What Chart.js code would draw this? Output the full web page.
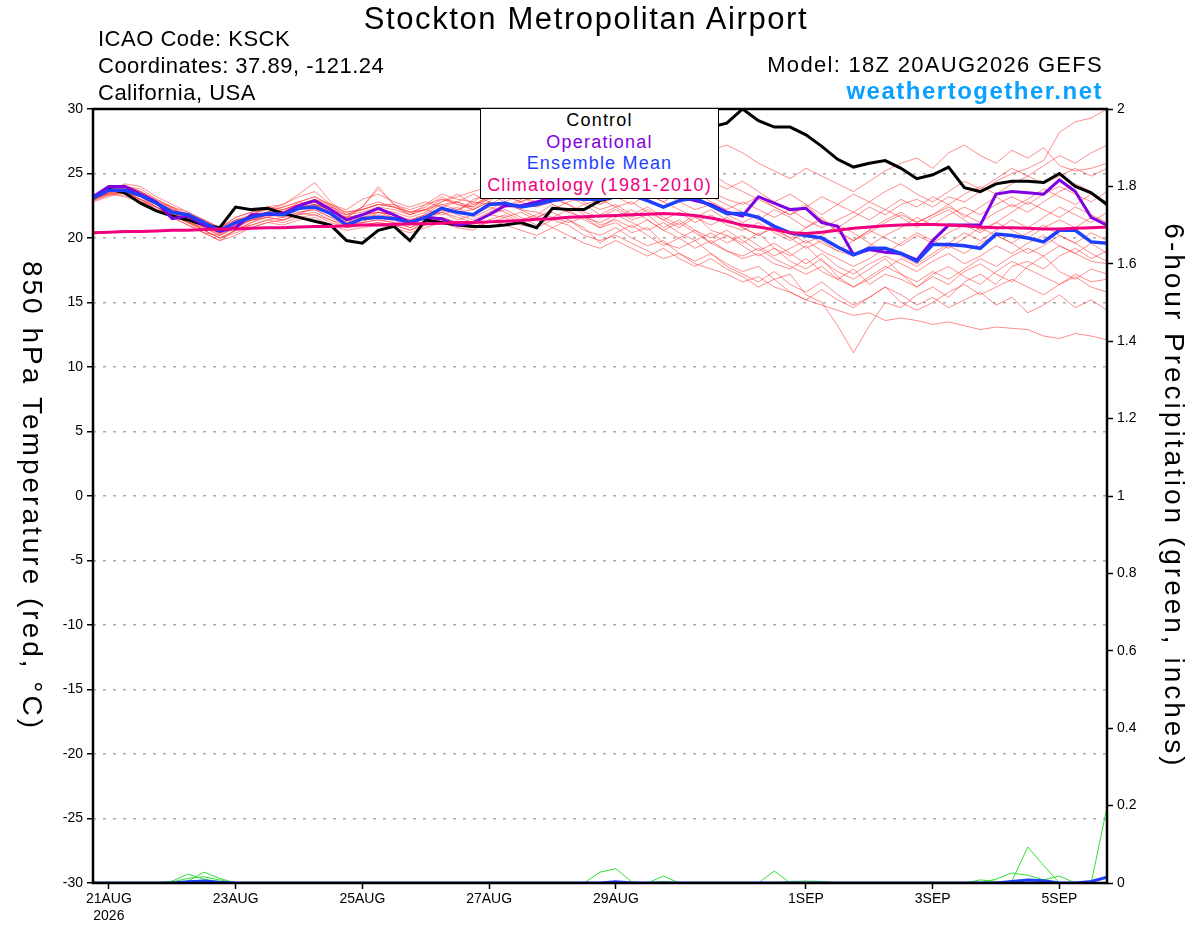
<!DOCTYPE html>
<html>
<head>
<meta charset="utf-8">
<script src="https://cdn.jsdelivr.net/npm/chart.js@4.4.0/dist/chart.umd.min.js"></script>
<style>
body{margin:0;background:#fff;font-family:"Liberation Sans",Arial,sans-serif;}
#wrap{position:relative;width:1200px;height:927px;overflow:hidden;}
#c{position:absolute;left:0;top:0;}
.t{position:absolute;white-space:nowrap;color:#000;line-height:1;}
#legend{position:absolute;left:480px;top:108px;width:237px;height:88px;background:#fff;border:1.5px solid #000;text-align:center;font-size:18px;letter-spacing:1.2px;line-height:21.5px;padding-top:1px;}
</style>
</head>
<body>
<div id="wrap">
<canvas id="c" width="1200" height="927"></canvas>
<div class="t" style="left:0;width:1172px;top:3px;text-align:center;font-size:31px;letter-spacing:1.6px">Stockton Metropolitan Airport</div>
<div class="t" style="left:98px;top:28px;font-size:22px;letter-spacing:0.5px">ICAO Code: KSCK</div>
<div class="t" style="left:98px;top:55px;font-size:22px;letter-spacing:0.5px">Coordinates: 37.89, -121.24</div>
<div class="t" style="left:98px;top:82px;font-size:22px;letter-spacing:0.5px">California, USA</div>
<div class="t" style="right:97px;top:54px;font-size:22px;letter-spacing:1.3px">Model: 18Z 20AUG2026 GEFS</div>
<div class="t" style="right:97px;top:79px;font-size:24px;letter-spacing:1.5px;font-weight:bold;color:#0aa0ff">weathertogether.net</div>
<div id="legend">
<div style="color:#000">Control</div>
<div style="color:#7f00e0">Operational</div>
<div style="color:#1f3fff">Ensemble Mean</div>
<div style="color:#f0007f">Climatology (1981-2010)</div>
</div>
</div>
<script>
// 6-hourly steps from 18Z 20AUG2026 to 18Z 5SEP2026 (65 values)
var tickHours = [6, 54, 102, 150, 198, 270, 318, 366];
var tickLabels = [['21AUG', '2026'], '23AUG', '25AUG', '27AUG', '29AUG', '1SEP', '3SEP', '5SEP'];

var control = [23.1,23.8,23.5,22.7,22.1,21.7,21.4,21.0,20.8,
  22.4,22.2,22.3,21.9,21.6,21.3,21.0,19.8,19.6,20.6,
  20.9,19.8,21.4,21.2,21.0,20.9,20.9,21.0,21.2,20.8,22.3,22.2,22.2,22.9,
  23.2,24.0,25.0,26.0,27.0,28.0,28.6,28.9,
  30.0,29.1,28.6,28.6,28.0,27.1,26.1,25.5,25.8,26.0,25.4,24.6,
  24.9,25.5,23.9,23.6,24.2,24.4,24.4,24.3,25.0,24.0,23.5,22.6];
var operational = [23.2,24.0,24.0,23.4,22.8,21.5,21.7,21.0,20.5,
  20.8,21.8,21.8,21.9,22.5,22.9,22.2,21.4,21.8,22.3,
  21.8,21.2,21.6,21.5,21.0,21.2,21.8,22.5,22.5,22.8,23.1,23.3,23.6,23.9,
  24.0,24.0,23.8,23.5,23.2,22.9,22.6,22.0,
  21.7,23.2,22.7,22.2,22.3,21.2,20.9,18.7,19.1,18.9,18.8,18.3,
  19.8,21.0,21.0,21.0,23.4,23.6,23.5,23.4,24.5,23.6,21.6,21.0];
var ensMean = [23.1,23.7,23.7,23.3,22.7,22.0,21.8,21.2,20.6,
  21.2,21.6,21.9,21.8,22.3,22.4,21.9,21.0,21.5,21.6,
  21.5,21.2,21.6,22.3,22.0,21.8,22.6,22.7,22.4,22.6,22.9,23.1,23.0,23.0,
  23.2,23.3,22.9,22.4,22.9,23.1,22.5,21.9,
  21.9,21.6,20.9,20.4,20.2,20.0,19.3,18.7,19.2,19.2,18.8,18.2,
  19.5,19.5,19.4,19.2,20.3,20.2,20.0,19.7,20.6,20.6,19.7,19.6];
var climo = [20.4,20.45,20.5,20.5,20.55,20.6,20.6,20.65,20.7,
  20.7,20.75,20.8,20.8,20.85,20.9,20.9,20.95,21.0,21.0,
  21.05,21.1,21.1,21.15,21.2,21.2,21.25,21.3,21.35,21.45,21.5,21.6,21.65,21.7,
  21.75,21.8,21.85,21.9,21.85,21.75,21.55,21.3,
  21.0,20.85,20.65,20.4,20.35,20.45,20.6,20.75,20.85,20.95,21.0,21.05,
  21.05,21.0,20.95,20.85,20.8,20.8,20.75,20.7,20.7,20.75,20.8,20.85];

var members = [
 [23.0,23.9,24.1,23.6,22.9,22.3,21.6,21.0,20.4, 21.0,21.8,22.4,22.0,22.8,23.2,22.5,21.4,21.2,22.0,
  21.8,21.0,21.9,22.6,22.8,22.2,23.1,23.6,23.0,23.8,24.4,24.0,24.8,25.2, 25.6,25.0,25.8,26.2,25.4,24.6,25.0,24.2,
  23.6,23.0,22.4,21.8,22.6,21.4,20.8,21.6,22.4,21.8,22.6,23.0, 22.4,23.2,22.8,23.6,24.4,25.0,25.4,26.0,28.2,29.0,29.3,30.0],
 [23.1,23.4,23.2,22.8,22.4,21.6,21.3,20.6,20.0, 20.6,21.2,21.6,21.4,21.9,21.8,21.2,20.8,21.0,21.2,
  21.0,20.6,21.2,21.6,21.2,21.0,21.8,21.6,21.0,20.8,21.4,21.0,20.2,19.8, 20.2,19.6,19.0,18.4,18.8,18.0,17.6,17.2,
  16.6,17.0,16.2,15.8,15.2,14.8,14.4,14.0,14.2,13.6,13.8,13.6, 13.3,13.5,13.2,12.9,13.1,13.0,12.9,12.4,12.2,12.6,12.4,12.1],
 [23.2,23.8,23.6,23.0,22.2,21.9,21.2,20.8,20.2, 21.4,21.6,22.0,22.2,22.6,22.8,22.0,21.2,21.6,21.8,
  21.6,21.4,21.8,22.0,22.4,21.6,22.2,22.8,22.2,22.0,21.6,21.2,21.6,20.8, 21.2,20.4,20.8,19.6,19.2,19.8,18.8,18.0,
  17.4,17.8,16.8,17.2,15.6,15.0,13.2,11.1,13.2,15.0,14.6,15.6, 16.2,15.4,16.6,17.2,16.4,17.8,18.2,17.6,18.6,19.2,18.4,19.0],
 [22.9,23.6,24.2,24.0,23.2,22.6,22.0,21.4,20.8, 21.6,22.0,22.2,22.6,23.4,24.3,22.8,21.8,22.2,22.6,
  22.4,22.0,22.4,23.2,22.6,22.4,23.4,23.0,23.6,24.0,23.4,24.2,24.6,24.0, 24.8,25.2,24.6,25.4,26.2,25.6,26.8,27.2,
  26.6,25.8,25.2,24.6,25.4,24.8,24.2,23.6,24.4,25.2,25.8,26.2, 25.4,26.6,27.2,26.4,25.8,26.8,26.2,27.0,25.6,25.2,25.4,25.8],
 [23.0,23.5,23.9,23.4,22.6,22.2,21.8,21.0,20.6, 21.0,21.4,21.8,21.6,22.0,22.2,21.6,21.6,22.4,24.0,
  22.6,21.8,22.2,21.8,22.2,22.8,22.6,23.2,22.8,22.4,22.8,23.6,22.8,22.2, 22.6,21.8,22.4,21.6,21.0,21.8,20.6,20.2,
  19.6,20.4,19.2,18.6,19.4,18.2,17.4,16.8,17.6,18.4,17.2,16.2, 17.0,16.4,17.4,18.0,17.2,16.6,17.8,18.6,17.4,16.8,17.6,17.2],
 [23.1,23.7,24.0,23.8,23.0,22.4,21.5,20.9,20.3, 20.8,21.4,21.6,22.0,22.4,22.6,22.2,21.4,21.8,22.2,
  22.0,21.6,22.0,22.8,23.4,22.6,23.0,23.4,23.8,23.2,23.8,24.6,24.0,23.6, 24.2,23.6,23.0,23.6,22.8,22.2,22.6,21.8,
  21.2,21.8,20.6,20.0,20.8,21.6,20.4,19.8,20.6,21.4,22.0,21.2, 21.8,22.6,21.6,22.4,23.2,22.4,23.0,23.8,23.2,22.6,23.4,22.8],
 [22.9,23.3,23.6,23.2,22.8,22.0,21.4,20.6,20.0, 20.4,20.8,21.2,21.0,21.4,21.6,21.0,20.6,20.8,21.0,
  20.8,20.4,20.8,21.2,20.8,20.6,21.4,21.8,21.2,21.6,22.0,21.4,20.6,20.2, 20.8,20.0,19.4,19.8,18.8,18.2,18.8,17.8,
  17.2,16.6,17.4,16.4,15.8,16.6,15.6,14.8,15.4,16.2,15.6,14.8, 15.4,14.6,15.2,15.8,14.8,15.4,14.2,14.8,15.6,14.6,15.2,14.4],
 [23.2,24.0,23.8,23.4,22.6,21.8,21.2,20.4,19.8, 20.6,21.2,21.8,22.0,22.6,23.0,22.4,21.8,22.0,22.4,
  22.2,21.8,22.6,23.0,22.6,22.2,22.8,23.8,23.2,22.8,23.2,22.6,22.0,21.6, 22.2,21.4,21.8,20.8,21.4,20.6,20.0,20.6,
  19.8,19.0,19.6,18.8,18.0,18.8,17.8,17.2,18.0,18.6,18.0,17.4, 18.2,18.8,18.0,18.6,19.4,18.8,19.6,20.2,19.4,18.8,19.6,18.8],
 [23.0,23.6,23.4,23.0,22.4,21.8,21.6,21.0,20.6, 21.2,21.8,22.2,22.4,22.8,22.6,22.2,21.4,21.6,22.0,
  21.8,21.4,21.6,22.4,22.0,23.0,23.4,22.8,23.4,23.8,24.2,23.8,23.2,22.6, 23.4,24.0,23.4,22.8,23.6,24.4,23.6,23.0,
  22.6,23.2,22.4,21.8,22.4,23.2,22.6,22.0,21.4,22.2,21.6,20.8, 21.6,22.2,21.4,20.6,21.2,22.0,22.8,22.2,21.6,22.4,21.8,21.2],
 [23.1,23.5,23.8,23.4,22.8,22.2,21.8,21.2,20.8, 21.4,21.6,22.0,21.8,22.2,22.4,21.8,21.2,21.4,21.6,
  21.4,20.8,21.2,21.6,21.2,20.8,21.2,21.6,22.0,21.4,20.8,21.4,20.8,19.6, 20.4,21.0,20.2,19.4,20.0,19.2,19.8,19.0,
  18.4,18.8,18.0,17.6,18.4,17.4,16.8,17.6,16.4,17.2,16.8,16.2, 17.2,17.8,17.0,16.4,17.4,18.2,17.6,17.0,16.4,17.2,16.6,16.8],
 [23.0,23.8,24.1,23.6,22.8,22.2,21.6,21.2,20.6, 21.2,21.8,22.4,22.6,23.2,23.6,22.6,21.6,22.4,23.8,
  22.6,22.0,22.2,23.0,22.8,22.4,23.2,23.6,24.2,23.6,24.0,24.6,25.0,24.4, 25.0,24.4,24.8,25.4,24.6,25.2,24.4,23.8,
  24.4,23.6,22.8,23.4,22.6,21.8,22.6,23.4,22.8,23.6,24.2,23.4, 22.8,23.6,24.4,23.8,24.6,25.4,24.8,25.6,26.4,25.8,26.6,27.2],
 [22.8,23.2,23.6,23.0,22.4,21.6,21.0,20.4,20.2, 20.8,21.0,21.4,21.6,22.0,22.2,21.6,21.0,21.2,21.4,
  21.2,20.8,21.4,22.0,21.6,21.2,21.8,22.2,21.6,21.0,21.6,22.2,21.4,20.8, 21.6,22.2,21.4,20.6,21.2,20.4,19.6,20.2,
  19.4,18.6,19.2,18.2,17.6,18.4,17.0,16.2,16.8,17.6,18.4,17.8, 18.6,19.4,18.8,19.6,20.2,19.6,20.4,21.0,20.2,19.6,20.4,19.8],
 [23.2,23.7,23.5,23.2,22.6,22.0,21.4,21.0,20.4, 21.0,21.6,21.8,22.2,22.6,23.0,22.6,22.0,22.2,22.6,
  22.4,22.0,22.2,22.8,23.2,23.6,24.0,23.4,22.8,23.2,23.8,23.2,22.6,23.0, 22.4,21.6,22.2,21.4,20.8,21.6,22.2,21.4,
  20.8,20.2,21.0,20.4,19.6,20.2,21.0,20.4,19.6,18.8,19.6,20.4, 19.8,19.2,20.0,20.8,20.2,19.6,18.8,19.4,20.2,19.6,18.8,18.2],
 [23.0,23.4,23.8,23.4,22.6,21.8,21.2,20.8,20.2, 20.8,21.4,21.6,21.4,21.8,22.4,22.0,21.6,21.8,22.0,
  21.6,21.2,21.6,22.0,21.4,21.8,22.4,22.0,21.4,21.8,22.6,22.0,21.6,21.2, 21.8,21.2,20.6,21.2,20.4,19.8,20.4,19.6,
  20.2,19.4,18.6,19.2,19.8,19.0,18.4,17.8,18.4,19.2,18.6,18.0, 18.8,19.6,20.4,19.8,20.6,21.4,20.8,21.6,22.4,21.8,21.2,22.0],
 [23.1,23.9,23.7,23.4,22.8,22.4,22.0,21.4,20.8, 21.6,22.0,22.4,22.2,22.6,22.8,22.4,22.0,22.2,22.6,
  22.6,22.2,22.6,23.4,23.0,22.8,23.6,24.2,23.6,23.2,24.0,24.8,24.4,25.0, 24.4,23.8,24.2,23.6,23.0,23.6,22.8,22.2,
  22.8,22.2,21.6,22.2,21.4,20.8,21.4,22.0,22.8,22.2,23.0,22.4, 23.2,22.6,23.4,24.0,23.4,24.2,24.8,24.2,24.8,25.4,24.8,25.4],
 [23.0,23.5,23.3,22.9,22.2,21.6,21.0,20.4,19.8, 20.2,20.8,21.2,21.4,21.8,22.0,21.4,20.8,21.0,21.2,
  21.0,20.6,21.0,21.4,21.0,20.8,21.4,21.0,20.6,20.2,20.8,20.2,19.6,19.2, 19.8,19.2,18.6,19.2,18.4,17.8,18.4,17.6,
  17.0,16.2,16.8,15.8,15.2,16.0,15.2,14.6,15.4,16.2,15.0,14.4, 15.0,15.8,16.4,15.6,16.2,16.8,16.2,15.6,16.4,17.0,16.2,15.8],
 [23.2,23.6,23.9,23.6,23.0,22.4,21.8,21.4,20.8, 21.4,21.8,22.0,22.4,22.8,23.2,22.6,22.2,23.0,23.4,
  22.8,22.4,22.8,22.4,22.8,23.4,22.8,22.4,22.8,23.4,22.6,22.0,22.6,21.8, 22.4,22.8,22.0,21.4,22.0,21.2,21.8,21.0,
  20.6,21.2,20.4,19.8,20.4,19.6,19.0,19.8,20.6,20.0,19.4,20.2, 19.6,20.4,21.0,20.4,21.2,20.6,20.0,20.8,21.4,20.8,21.6,21.0],
 [22.9,23.4,23.6,23.2,22.4,21.8,21.2,20.6,20.0, 20.6,21.0,21.4,21.2,21.6,21.8,21.4,21.0,21.2,21.4,
  21.2,21.0,21.6,22.2,21.8,21.4,22.0,22.6,22.2,21.6,22.2,22.8,23.2,22.6, 23.2,22.6,23.4,22.8,22.2,21.6,21.0,21.6,
  20.8,20.2,20.8,20.0,19.2,19.8,19.0,18.6,19.4,20.2,20.8,21.6, 21.0,21.8,22.4,21.8,22.6,23.2,22.6,23.4,24.0,23.4,22.8,23.6],
 [23.1,23.6,24.0,23.6,22.8,22.0,21.6,20.9,20.4, 21.0,21.6,21.8,22.0,22.4,22.6,22.0,21.6,21.8,22.0,
  21.8,21.4,21.8,22.4,22.0,22.2,22.8,22.4,23.0,23.6,23.0,22.6,21.8,21.0, 21.4,20.8,21.4,20.6,20.0,20.6,19.6,19.0,
  18.6,19.2,18.4,17.8,17.2,17.8,16.8,16.2,17.0,17.8,17.2,16.6, 17.4,16.8,17.6,18.4,17.8,18.6,19.2,18.6,19.4,18.8,18.2,18.0],
 [23.0,23.7,23.5,23.0,22.6,22.0,21.6,21.2,20.6, 21.2,21.4,21.8,22.0,22.2,22.6,22.2,21.8,22.4,22.8,
  22.4,21.8,22.2,22.6,22.2,22.6,23.2,23.8,23.2,22.6,23.2,23.8,24.6,24.0, 24.6,25.2,24.4,23.8,24.4,23.8,23.2,22.6,
  22.0,21.4,22.2,21.6,20.8,21.4,20.6,19.8,20.4,21.2,21.8,21.2, 21.8,22.4,21.8,21.2,22.0,22.6,22.0,22.8,23.6,24.2,23.6,22.4]
];

// 6-hour precipitation, inches (members with measurable amounts + mean)
var precipMembers = [
 [0,0,0,0,0,0.005,0.023,0.010,0.003,0,0,0,0, 0,0,0,0,0,0,0,0,0,0,0,0,0, 0,0,0,0,0,0,0,0,0,0,0,0,0,
  0,0,0,0,0,0,0,0,0,0,0,0,0, 0,0,0,0,0,0,0,0,0,0,0,0,0.196],
 [0,0,0,0,0,0,0.005,0.028,0.012,0,0,0,0, 0,0,0,0,0,0,0,0,0,0,0,0,0, 0,0,0,0,0,0,0,0,0,0,0,0,0,
  0,0,0,0,0,0,0,0,0,0,0,0,0, 0,0,0,0,0,0.010,0.026,0.020,0.008,0.018,0,0,0],
 [0,0,0,0,0,0.003,0.012,0.016,0.008,0,0,0,0, 0,0,0,0,0,0,0,0,0,0,0,0,0, 0,0,0,0,0,0,0,0,0,0,0,0,0,
  0,0,0,0,0,0,0,0,0,0,0,0,0, 0,0,0,0,0,0,0.005,0.093,0.045,0,0,0,0],
 [0,0,0,0,0,0,0,0,0,0,0,0,0, 0,0,0,0,0,0,0,0,0,0,0,0,0, 0,0,0,0,0,0,0.028,0.037,0.003,0,0.018,0,0,
  0,0,0,0,0.031,0,0,0,0,0,0,0,0, 0,0,0,0,0,0,0,0,0,0,0,0,0],
 [0,0,0,0,0,0,0,0,0,0,0,0,0, 0,0,0,0,0,0,0,0,0,0,0,0,0, 0,0,0,0,0,0,0,0,0,0,0.004,0,0,
  0,0,0,0,0,0.004,0.005,0.004,0,0,0,0,0, 0,0,0,0,0.008,0.004,0,0,0,0,0,0,0.018]
];
var precipMean = [0,0,0,0,0,0,0.003,0.005,0.002,0,0,0,0, 0,0,0,0,0,0,0,0,0,0,0,0,0, 0,0,0,0,0,0,0,0.003,0,0,0,0,0,
  0,0,0,0,0,0,0,0,0,0,0,0,0, 0,0,0,0,0,0,0.004,0.008,0.006,0,0,0.004,0.015];

var leftTitle = '850 hPa Temperature (red, \u00B0C)';
var rightTitle = '6-hour Precipitation (green, inches)';

function pts(arr) {
  return arr.map(function (v, i) { return { x: i * 6, y: v }; });
}
function line(arr, color, width, axis) {
  return { data: pts(arr), borderColor: color, borderWidth: width, yAxisID: axis || 'y',
    pointRadius: 0, fill: false, tension: 0 };
}

var datasets = [
  line(climo, '#f0007f', 3),
  line(ensMean, '#1f3fff', 3.5),
  line(operational, '#7f00e0', 3),
  line(control, '#000000', 3),
  line(precipMean, '#1f3fff', 3, 'y1')
];
precipMembers.forEach(function (p) { datasets.push(line(p, '#33dd33', 1, 'y1')); });
members.forEach(function (m) { datasets.push(line(m, 'rgba(255,50,50,0.7)', 0.8)); });

var frame = {
  id: 'frame',
  afterDraw: function (chart) {
    var ctx = chart.ctx, a = chart.chartArea;
    ctx.save();
    ctx.strokeStyle = '#000';
    ctx.lineWidth = 2.5;
    ctx.strokeRect(a.left, a.top, a.right - a.left, a.bottom - a.top);
    ctx.fillStyle = '#000';
    ctx.font = '28px "Liberation Sans", Arial, sans-serif';
    ctx.letterSpacing = '3px';
    ctx.textAlign = 'center';
    ctx.textBaseline = 'middle';
    var mid = (a.top + a.bottom) / 2;
    ctx.save();
    ctx.translate(31, mid);
    ctx.rotate(Math.PI / 2);
    ctx.fillText(leftTitle, 0, 0);
    ctx.restore();
    ctx.save();
    ctx.translate(1173, mid);
    ctx.rotate(Math.PI / 2);
    ctx.fillText(rightTitle, 0, 0);
    ctx.restore();
    ctx.restore();
  }
};

var font = { family: '"Liberation Sans", Arial, sans-serif', size: 14 };

new Chart(document.getElementById('c').getContext('2d'), {
  type: 'line',
  data: { datasets: datasets },
  options: {
    responsive: false,
    animation: false,
    devicePixelRatio: 1,
    layout: { padding: { top: 109, left: 0, right: 0, bottom: 0 } },
    plugins: { legend: { display: false }, tooltip: { enabled: false } },
    scales: {
      x: {
        type: 'linear', min: 0, max: 384,
        afterBuildTicks: function (s) { s.ticks = tickHours.map(function (v) { return { value: v }; }); },
        afterFit: function (s) { s.height = 44; },
        ticks: { autoSkip: false, maxRotation: 0, color: '#000', font: font, padding: 2,
          callback: function (v, i) { return tickLabels[i]; } },
        grid: { drawOnChartArea: false, tickLength: 6, tickColor: '#000', tickWidth: 1.5 },
        border: { display: false }
      },
      y: {
        position: 'left', min: -30, max: 30,
        afterFit: function (s) { s.width = 93; },
        ticks: { stepSize: 5, color: '#000', font: font, padding: 4 },
        grid: { color: '#aaaaaa', lineWidth: 1.5, tickLength: 6, tickColor: '#000', tickWidth: 1.5 },
        border: { display: false, dash: [3, 7] }
      },
      y1: {
        position: 'right', min: 0, max: 2,
        afterFit: function (s) { s.width = 93; },
        ticks: { stepSize: 0.2, color: '#000', font: font, padding: 4,
          callback: function (v) { return String(+v.toFixed(1)); } },
        grid: { drawOnChartArea: false, tickLength: 6, tickColor: '#000', tickWidth: 1.5 },
        border: { display: false }
      }
    }
  },
  plugins: [frame]
});
</script>
</body>
</html>
